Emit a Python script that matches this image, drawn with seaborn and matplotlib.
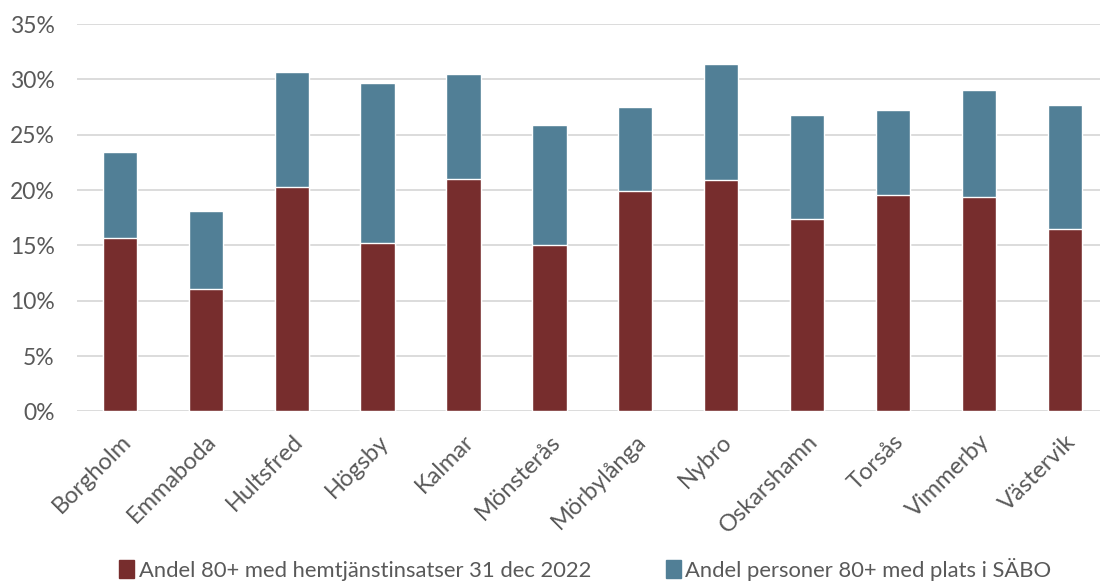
import matplotlib
matplotlib.use("Agg")
import matplotlib.pyplot as plt
from matplotlib.patches import Patch
from matplotlib.ticker import PercentFormatter
import seaborn as sns
import pandas as pd

kommuner = ["Borgholm", "Emmaboda", "Hultsfred", "Högsby", "Kalmar", "Mönsterås",
            "Mörbylånga", "Nybro", "Oskarshamn", "Torsås", "Vimmerby", "Västervik"]
hemtjanst = [0.157, 0.111, 0.203, 0.152, 0.210, 0.150,
             0.199, 0.209, 0.174, 0.196, 0.194, 0.165]
sabo = [0.077, 0.070, 0.104, 0.145, 0.095, 0.109,
        0.076, 0.105, 0.094, 0.076, 0.096, 0.112]
serie_namn = ["Andel 80+ med hemtjänstinsatser 31 dec 2022",
              "Andel personer 80+ med plats i SÄBO"]
y_ticks = [0, 0.05, 0.10, 0.15, 0.20, 0.25, 0.30, 0.35]

RED = "#772D2D"
BLUE = "#517F96"
TEXT = "#595959"

df = pd.DataFrame({"kommun": kommuner, "hemtjanst": hemtjanst, "sabo": sabo})
df["total"] = df["hemtjanst"] + df["sabo"]

sns.set_theme(style="white")
plt.rcParams["font.family"] = ["Lato", "DejaVu Sans"]

fig = plt.figure(figsize=(11, 5.83), dpi=100)
ax = fig.add_axes([0.07, 0.2942, 0.93, 0.6646])

# stacked: full height in blue, lower segment in red
sns.barplot(data=df, x="kommun", y="total", color=BLUE, width=0.4,
            saturation=1, ax=ax, zorder=3)
sns.barplot(data=df, x="kommun", y="hemtjanst", color=RED, width=0.4,
            saturation=1, ax=ax, zorder=3)

ax.set_ylim(0, 0.35)
ax.set_xlim(-0.5, 11.41)
ax.set_yticks(y_ticks)
ax.yaxis.set_major_formatter(PercentFormatter(1.0, decimals=0))
ax.grid(axis="y", color="#d9d9d9", linewidth=1.3, zorder=0)
ax.set_axisbelow(True)
for s in ax.spines.values():
    s.set_visible(False)
ax.set_xlabel("")
ax.set_ylabel("")
ax.tick_params(axis="both", length=0, labelcolor=TEXT)
ax.tick_params(axis="y", pad=16, labelsize=16.5)
ax.tick_params(axis="x", pad=14, labelsize=17)
for lbl in ax.get_xticklabels():
    lbl.set_rotation(45)
    lbl.set_ha("right")
    lbl.set_rotation_mode("anchor")

handles = [Patch(color=RED, label=serie_namn[0]), Patch(color=BLUE, label=serie_namn[1])]
fig.legend(handles=handles, loc="center", bbox_to_anchor=(0.532, 0.024), ncol=2,
           frameon=False, fontsize=15.8, labelcolor=TEXT, handlelength=0.7,
           handleheight=0.9, handletextpad=0.2, columnspacing=3.4)

fig.savefig("out.png", dpi=100)
